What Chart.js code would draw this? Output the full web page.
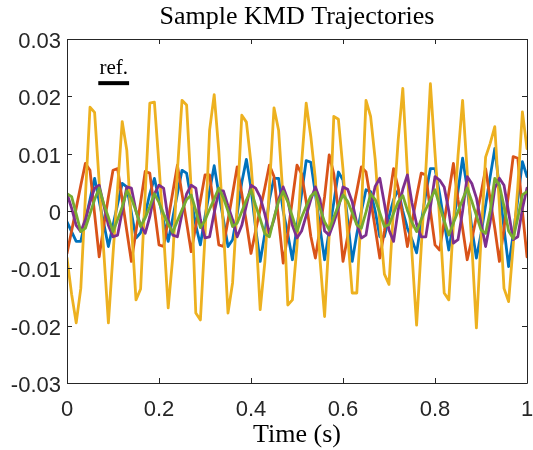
<!DOCTYPE html>
<html>
<head>
<meta charset="utf-8">
<script src="https://cdn.jsdelivr.net/npm/chart.js@4/dist/chart.umd.min.js"></script>
<style>
html,body{margin:0;padding:0;background:#fff;}
canvas{display:block;}
</style>
</head>
<body>
<canvas id="c" width="533" height="450"></canvas>
<script>
// ---- data ----
const times = [0,0.01,0.02,0.03,0.04,0.05,0.06,0.07,0.08,0.09,
0.1,0.11,0.12,0.13,0.14,0.15,0.16,0.17,0.18,0.19,
0.2,0.21,0.22,0.23,0.24,0.25,0.26,0.27,0.28,0.29,
0.3,0.31,0.32,0.33,0.34,0.35,0.36,0.37,0.38,0.39,
0.4,0.41,0.42,0.43,0.44,0.45,0.46,0.47,0.48,0.49,
0.5,0.51,0.52,0.53,0.54,0.55,0.56,0.57,0.58,0.59,
0.6,0.61,0.62,0.63,0.64,0.65,0.66,0.67,0.68,0.69,
0.7,0.71,0.72,0.73,0.74,0.75,0.76,0.77,0.78,0.79,
0.8,0.81,0.82,0.83,0.84,0.85,0.86,0.87,0.88,0.89,
0.9,0.91,0.92,0.93,0.94,0.95,0.96,0.97,0.98,0.99,1];

const blueSeries = [-0.0019,-0.0036,-0.0053,-0.0053,-0.0016,0.002,0.0057,0.0017,-0.0022,-0.0062,
-0.0025,0.0012,0.0048,0.0042,-0.0003,-0.0047,-0.0038,-0.0005,0.003,0.0057,
0.002,-0.0018,-0.0053,-0.0012,0.003,0.0071,0.0066,0.002,-0.0025,-0.0059,
-0.001,0.0035,0.0079,0.003,-0.0015,-0.0062,-0.005,-0.0005,0.005,0.009,
0.004,-0.003,-0.0088,-0.004,0.002,0.0057,0.0057,0.0,-0.004,-0.0085,
-0.0027,0.003,0.0088,0.0085,0.003,-0.003,-0.0085,-0.0035,0.0015,0.0068,
0.0054,-0.0015,-0.0088,-0.004,0.0,0.0037,0.0034,0.0,-0.0045,-0.0045,
-0.001,0.002,0.0037,0.0,-0.003,-0.005,-0.0073,-0.002,0.003,0.0074,
0.0074,0.003,-0.002,-0.0068,-0.002,0.0035,0.0092,0.004,-0.003,-0.0082,
-0.004,0.001,0.006,0.0109,0.004,-0.003,-0.0097,-0.004,0.002,0.0086,0.006];

const orangeSeries = [-0.0074,-0.0035,0.0005,0.0045,0.0083,0.0071,-0.0005,-0.008,-0.0025,0.0025,
0.0071,0.0074,0.002,-0.0035,-0.0088,-0.0035,0.0015,0.0069,0.0066,0.0003,
-0.0059,-0.0062,-0.0015,0.0033,0.008,0.003,-0.002,-0.0071,-0.0026,0.0018,
0.0063,0.0063,0.0003,-0.0059,-0.0062,-0.0016,0.003,0.0077,0.003,-0.002,
-0.0074,-0.0035,0.0003,0.004,0.008,0.006,-0.0015,-0.0091,-0.004,0.002,
0.008,0.0065,0.0016,-0.0044,-0.0082,-0.003,0.0025,0.0098,0.0065,0.0,
-0.0088,-0.0045,-0.0005,0.0035,0.0077,0.0068,0.002,-0.003,-0.0082,-0.0035,
0.002,0.0074,0.004,-0.001,-0.0062,-0.002,0.0025,0.0066,0.0063,0.0,
-0.0059,-0.0068,-0.0018,0.0032,0.0083,0.002,-0.003,-0.0085,-0.005,-0.001,
0.003,0.0074,0.002,-0.003,-0.0088,-0.003,0.003,0.0095,0.0092,0.0,-0.008];

const yellowSeries = [-0.0082,-0.0145,-0.0195,-0.0135,0.0025,0.0181,0.0172,0.005,-0.0072,-0.0195,
-0.0076,0.004,0.0156,0.0106,-0.0025,-0.0155,-0.0136,0.003,0.0188,0.019,
0.008,-0.004,-0.0169,-0.008,0.007,0.0193,0.0185,0.0037,-0.0178,-0.019,
-0.0044,0.0141,0.0203,0.0105,-0.003,-0.0178,-0.0125,0.001,0.0167,0.0155,
0.0083,-0.0027,-0.0172,-0.009,0.004,0.018,0.0141,0.002,-0.0164,-0.0155,
-0.006,0.0083,0.0188,0.013,0.0055,-0.0085,-0.0184,-0.0042,0.0165,0.016,
0.0073,-0.0041,-0.0143,-0.0143,0.0,0.0193,0.0165,0.009,-0.002,-0.011,
-0.0128,0.0007,0.0124,0.0214,0.0068,-0.0075,-0.0199,-0.0065,0.007,0.0222,
0.0101,-0.0012,-0.0143,-0.0155,-0.0023,0.0096,0.0193,0.0068,-0.0058,-0.0204,
-0.0049,0.0094,0.0118,0.0147,0.001,-0.0135,-0.0158,-0.006,0.0042,0.0173,0.0109];

const purpleSeries = [0.003,0.0005,-0.0025,-0.0036,-0.0015,0.0015,0.004,0.0045,0.001,-0.0025,
-0.0045,-0.0042,0.0,0.0042,0.004,0.0,-0.0025,-0.0039,-0.001,0.003,
0.0045,0.004,-0.0015,-0.0042,-0.0045,-0.0005,0.003,0.0045,0.004,-0.0015,
-0.0047,-0.0045,-0.0003,0.0035,0.0035,0.0009,-0.0015,-0.0045,-0.0025,0.001,
0.0045,0.004,0.0024,-0.0005,-0.0039,-0.0015,0.002,0.0042,0.002,-0.0025,
-0.0047,-0.0035,-0.0008,0.002,0.0042,0.002,-0.0035,-0.0042,-0.002,0.0005,
0.0042,0.0038,0.0016,-0.0022,-0.0047,-0.0042,0.0008,0.0043,0.0057,0.0013,
-0.0033,-0.0053,0.0002,0.0038,0.0063,0.0014,-0.0023,-0.0045,-0.0045,0.0007,
0.006,0.0054,0.0042,0.0,-0.0056,-0.005,0.0,0.006,0.0048,0.0023,
-0.002,-0.0062,-0.0019,0.004,0.0057,0.0045,-0.0002,-0.005,-0.0045,0.0004,0.004];

const greenSeries = [0.003,0.0025,-0.0005,-0.0036,-0.003,-0.0005,0.002,0.004,0.0012,-0.0011,
-0.0036,-0.0015,0.0007,0.0035,0.0022,0.0,-0.0027,-0.0012,0.0008,0.003,
0.0015,-0.0005,-0.0023,-0.0037,-0.0017,0.0002,0.002,0.0028,0.0001,-0.0029,
-0.0016,0.0003,0.0021,0.004,0.0023,0.0,-0.0027,-0.0021,-0.0001,0.0019,
0.0037,0.001,-0.0014,-0.004,-0.0045,-0.0012,0.0017,0.0034,0.0016,-0.001,
-0.0035,-0.0011,0.0008,0.0026,0.0033,0.0005,-0.0019,-0.0033,-0.0011,0.001,
0.0028,0.0017,-0.0003,-0.0024,-0.003,-0.0002,0.003,0.002,-0.0003,-0.0027,
-0.0024,-0.0004,0.0016,0.0027,0.0001,-0.002,-0.0036,-0.0015,0.0003,0.002,
0.0037,0.0009,-0.0017,-0.0042,-0.0021,-0.0001,0.002,0.004,0.0017,-0.0008,
-0.0033,-0.0039,0.0,0.0057,0.0045,0.0008,-0.0035,-0.0048,-0.0012,0.0028,0.0034];

// reference scale bar ("ref.") in data units
const refBarTimes = [0.068, 0.135];
const refBarLevel = [0.0223, 0.0223];
const refLabel = 'ref.';

const xTickValues = [0, 0.2, 0.4, 0.6, 0.8, 1];
const yTickValues = [-0.03, -0.02, -0.01, 0, 0.01, 0.02, 0.03];

// ---- build ----
const pts = arr => arr.map((v, i) => ({x: times[i], y: v}));
const fmt = v => {
  const r = Math.round(v * 100) / 100;
  if (Math.abs(r) < 1e-12) return '0';
  return String(r);
};

const axisColor = '#262626';
const frameTicks = {
  id: 'frameTicks',
  afterDraw(chart) {
    const {ctx, chartArea: a, scales: {x, y}} = chart;
    ctx.save();
    ctx.strokeStyle = axisColor;
    ctx.lineWidth = 1;
    ctx.beginPath();
    ctx.rect(Math.round(a.left) + 0.5, Math.round(a.top) + 0.5,
             Math.round(a.right - a.left), Math.round(a.bottom - a.top));
    ctx.stroke();
    const L = 5;
    ctx.beginPath();
    xTickValues.forEach(v => {
      const px = Math.round(x.getPixelForValue(v)) + 0.5;
      ctx.moveTo(px, a.bottom); ctx.lineTo(px, a.bottom - L);
      ctx.moveTo(px, a.top); ctx.lineTo(px, a.top + L);
    });
    yTickValues.forEach(v => {
      const py = Math.round(y.getPixelForValue(v)) + 0.5;
      ctx.moveTo(a.left, py); ctx.lineTo(a.left + L, py);
      ctx.moveTo(a.right, py); ctx.lineTo(a.right - L, py);
    });
    ctx.stroke();
    // ref label above the reference bar
    const cx = x.getPixelForValue((refBarTimes[0] + refBarTimes[1]) / 2);
    const by = y.getPixelForValue(refBarLevel[0]);
    ctx.fillStyle = '#000';
    ctx.font = '21px "Liberation Serif", "Times New Roman", serif';
    ctx.textAlign = 'center';
    ctx.textBaseline = 'alphabetic';
    ctx.fillText(refLabel, cx, by - 9);
    ctx.restore();
  }
};

const mk = (label, data, color, order) => ({
  label, data: pts(data), borderColor: color, backgroundColor: color,
  borderWidth: 2.8, borderJoinStyle: 'round', borderCapStyle: 'round',
  pointRadius: 0, tension: 0, fill: false, order
});

new Chart(document.getElementById('c'), {
  type: 'line',
  data: {
    datasets: [
      mk('Mode 1', blueSeries, '#0072BD', 4),
      mk('Mode 2', orangeSeries, '#D95319', 3),
      mk('Mode 3', yellowSeries, '#EDB120', 2),
      mk('Mode 4', purpleSeries, '#7E2F8E', 1),
      mk('Mode 5', greenSeries, '#77AC30', 0),
      {label: 'ref', data: refBarTimes.map((t, i) => ({x: t, y: refBarLevel[i]})),
       borderColor: '#000', borderWidth: 4, pointRadius: 0, borderCapStyle: 'butt', order: -1}
    ]
  },
  options: {
    responsive: false, animation: false, devicePixelRatio: 1,
    layout: {padding: {top: 0, right: 6, left: 0, bottom: 0}},
    plugins: {
      legend: {display: false}, tooltip: {enabled: false},
      title: {display: true, text: 'Sample KMD Trajectories', fullSize: false, color: '#000',
        font: {family: '"Liberation Serif", "Times New Roman", serif', size: 26, weight: 'normal', lineHeight: 1.2},
        padding: {top: 2, bottom: 5.8}}
    },
    scales: {
      x: {
        type: 'linear', min: 0, max: 1,
        afterBuildTicks: s => { s.ticks = xTickValues.map(v => ({value: v})); },
        ticks: {callback: v => fmt(v), color: '#262626', padding: 14, maxRotation: 0,
          font: {family: '"Liberation Sans", Arial, sans-serif', size: 22}},
        grid: {display: false, drawTicks: false},
        border: {display: false},
        title: {display: true, text: 'Time (s)', color: '#000', padding: {top: 0, bottom: -1},
          font: {family: '"Liberation Serif", "Times New Roman", serif', size: 26, lineHeight: 1.2}},
        afterFit: s => { s.height = 67; s.paddingLeft = 0; s.paddingRight = 0; }
      },
      y: {
        type: 'linear', min: -0.03, max: 0.03,
        afterBuildTicks: s => { s.ticks = yTickValues.map(v => ({value: v})); },
        ticks: {callback: v => fmt(v), color: '#262626', padding: 6, labelOffset: 3,
          font: {family: '"Liberation Sans", Arial, sans-serif', size: 22}},
        grid: {display: false, drawTicks: false},
        border: {display: false},
        afterFit: s => { s.width = 67; s.paddingTop = 0; s.paddingBottom = 0; }
      }
    }
  },
  plugins: [frameTicks]
});
</script>
</body>
</html>
